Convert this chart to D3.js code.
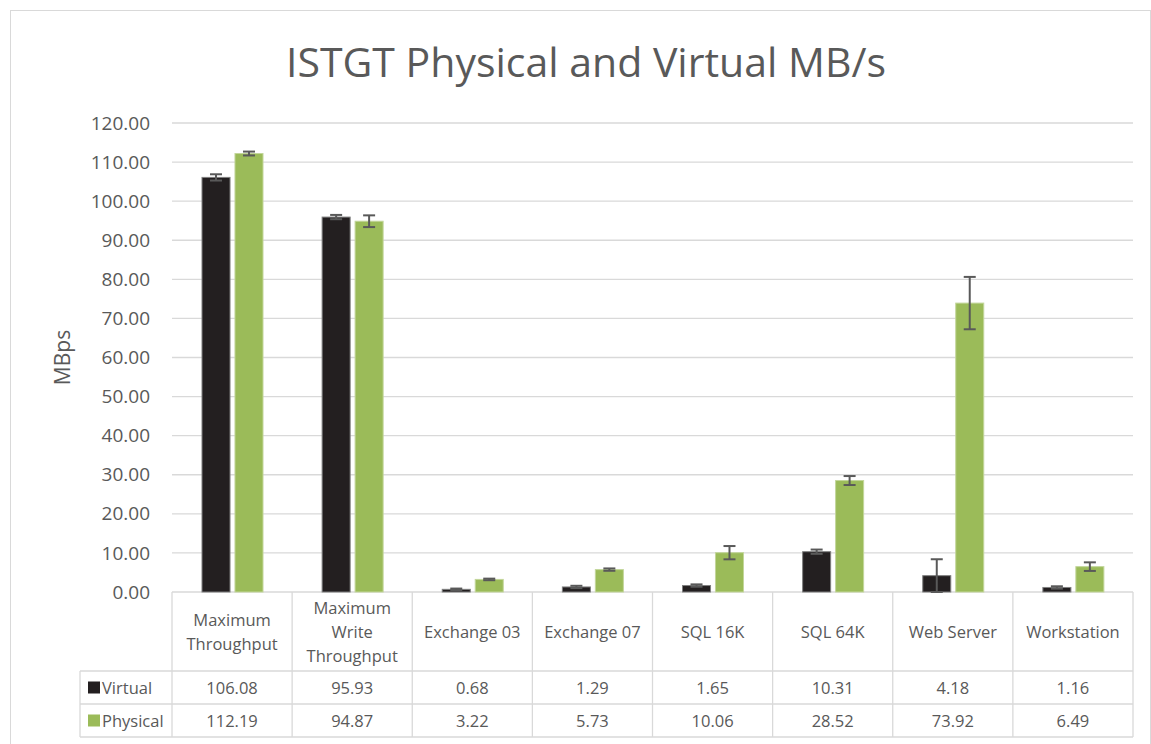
<!DOCTYPE html>
<html>
<head>
<meta charset="utf-8">
<script src="https://cdn.jsdelivr.net/npm/d3@7/dist/d3.min.js"></script>
<style>
  body { margin: 0; background: #fff; }
  svg text { font-family: "Open Sans", "Noto Sans", sans-serif; fill: #595959; }
</style>
</head>
<body>
<svg id="chart" width="1151" height="744"></svg>
<script>
// chart data
const categories = ["Maximum Throughput", "Maximum Write Throughput", "Exchange 03", "Exchange 07", "SQL 16K", "SQL 64K", "Web Server", "Workstation"];
const categoryLines = [["Maximum", "Throughput"], ["Maximum", "Write", "Throughput"], ["Exchange 03"], ["Exchange 07"], ["SQL 16K"], ["SQL 64K"], ["Web Server"], ["Workstation"]];
const seriesNames = ["Virtual", "Physical"];
const virtualValues = [106.08, 95.93, 0.68, 1.29, 1.65, 10.31, 4.18, 1.16];
const physicalValues = [112.19, 94.87, 3.22, 5.73, 10.06, 28.52, 73.92, 6.49];
const virtualErrors = [0.8, 0.55, 0.2, 0.3, 0.3, 0.55, 4.2, 0.3];
const physicalErrors = [0.5, 1.5, 0.2, 0.3, 1.7, 1.15, 6.7, 1.1];
const yTicks = [0, 10, 20, 30, 40, 50, 60, 70, 80, 90, 100, 110, 120];

const colors = { Virtual: "#231f20", Physical: "#9bbb59" };

var svg = d3.select("#chart"),
    margin = { top: 123, right: 18, bottom: 152, left: 172 },
    width = +svg.attr("width") - margin.left - margin.right,
    height = +svg.attr("height") - margin.top - margin.bottom;

// outer frame
svg.append("rect")
  .attr("x", 10.5).attr("y", 10.5)
  .attr("width", 1140).attr("height", 740)
  .attr("fill", "none").attr("stroke", "#d9d9d9");

svg.append("text")
  .attr("x", 586).attr("y", 77)
  .attr("text-anchor", "middle")
  .attr("font-size", "41px")
  .text("ISTGT Physical and Virtual MB/s");

var x = d3.scaleBand().domain(categories).range([0, width]);
var xs = d3.scaleBand().domain(seriesNames).range([30, 91]).paddingInner(0.15);
var y = d3.scaleLinear().domain([0, 120]).range([height, 0]);

var g = svg.append("g")
  .attr("transform", "translate(" + margin.left + "," + margin.top + ")");

// gridlines
g.append("g")
  .selectAll("line")
  .data(yTicks)
  .enter().append("line")
  .attr("x1", 0).attr("x2", width)
  .attr("y1", d => y(d)).attr("y2", d => y(d))
  .attr("stroke", "#d9d9d9").attr("stroke-width", 1.3);

// y axis labels
var yAxis = g.append("g")
  .call(d3.axisLeft(y).tickValues(yTicks).tickFormat(d3.format(".2f")).tickSize(0).tickPadding(22));
yAxis.select(".domain").remove();
yAxis.selectAll("text")
  .attr("font-size", "19px")
  .attr("fill", "#595959")
  .style("font-family", "'Open Sans', sans-serif");

svg.append("text")
  .attr("transform", "translate(70," + (margin.top + height / 2) + ") rotate(-90)")
  .attr("text-anchor", "middle")
  .attr("font-size", "21px")
  .text("MBps");

var rows = categories.map((c, i) => ({
  cat: c,
  vals: [
    { s: "Virtual", v: virtualValues[i], e: virtualErrors[i] },
    { s: "Physical", v: physicalValues[i], e: physicalErrors[i] }
  ]
}));

var groups = g.selectAll(".grp")
  .data(rows)
  .enter().append("g")
  .attr("class", "grp")
  .attr("transform", d => "translate(" + x(d.cat) + ",0)");

var bars = groups.selectAll(".bar")
  .data(d => d.vals)
  .enter();

bars.append("rect")
  .attr("class", "bar")
  .attr("x", d => xs(d.s))
  .attr("y", d => y(d.v))
  .attr("width", xs.bandwidth())
  .attr("height", d => height - y(d.v))
  .attr("fill", d => colors[d.s])
  .attr("stroke", d => d.s == "Virtual" ? "#7f7f7f" : "#c3d69b")
  .attr("stroke-width", 1);

// error bars
var eb = bars.append("g")
  .attr("stroke", "#595959")
  .attr("stroke-width", 2)
  .attr("transform", d => "translate(" + (xs(d.s) + xs.bandwidth() / 2) + ",0)");
eb.append("line")
  .attr("x1", 0).attr("x2", 0)
  .attr("y1", d => y(d.v + d.e)).attr("y2", d => y(Math.max(0, d.v - d.e)));
eb.append("line")
  .attr("x1", -6).attr("x2", 6)
  .attr("y1", d => y(d.v + d.e)).attr("y2", d => y(d.v + d.e));
eb.append("line")
  .attr("x1", -6).attr("x2", 6)
  .attr("y1", d => y(Math.max(0, d.v - d.e))).attr("y2", d => y(Math.max(0, d.v - d.e)));

// data table
var headerH = 79, rowH = 33, legendLeft = 80 - margin.left;
var tbl = g.append("g").attr("transform", "translate(0," + height + ")");
var border = "#d9d9d9";

// vertical lines
tbl.selectAll(".vl")
  .data(d3.range(categories.length + 1))
  .enter().append("line")
  .attr("x1", i => i * x.bandwidth()).attr("x2", i => i * x.bandwidth())
  .attr("y1", 0).attr("y2", headerH + 2 * rowH)
  .attr("stroke", border).attr("stroke-width", 1.3);
tbl.append("line")
  .attr("x1", legendLeft).attr("x2", legendLeft)
  .attr("y1", headerH).attr("y2", headerH + 2 * rowH)
  .attr("stroke", border).attr("stroke-width", 1.3);
// horizontal lines
[headerH, headerH + rowH, headerH + 2 * rowH].forEach(yy => {
  tbl.append("line")
    .attr("x1", legendLeft).attr("x2", width)
    .attr("y1", yy).attr("y2", yy)
    .attr("stroke", border).attr("stroke-width", 1.3);
});

// category labels
tbl.selectAll(".cl")
  .data(categoryLines)
  .enter().append("text")
  .attr("text-anchor", "middle")
  .attr("font-size", "16.5px")
  .attr("transform", (d, i) => "translate(" + (x(categories[i]) + x.bandwidth() / 2) + "," + (headerH / 2 - (d.length - 1) * 12 + 6) + ")")
  .selectAll("tspan")
  .data(d => d)
  .enter().append("tspan")
  .attr("x", 0)
  .attr("dy", (d, i) => i == 0 ? 0 : 24)
  .text(d => d);

// series rows
var seriesVals = [virtualValues, physicalValues];
seriesNames.forEach((s, si) => {
  var ry = headerH + si * rowH + rowH / 2;
  tbl.append("rect")
    .attr("x", legendLeft + 8).attr("y", ry - 6)
    .attr("width", 12).attr("height", 12)
    .attr("fill", colors[s]);
  tbl.append("text")
    .attr("x", legendLeft + 22).attr("y", ry + 6)
    .attr("font-size", "16.5px")
    .text(s);
  tbl.selectAll(".v" + si)
    .data(seriesVals[si])
    .enter().append("text")
    .attr("x", (d, i) => x(categories[i]) + x.bandwidth() / 2)
    .attr("y", ry + 6)
    .attr("text-anchor", "middle")
    .attr("font-size", "16.5px")
    .text(d => d3.format(".2f")(d));
});
</script>
</body>
</html>
